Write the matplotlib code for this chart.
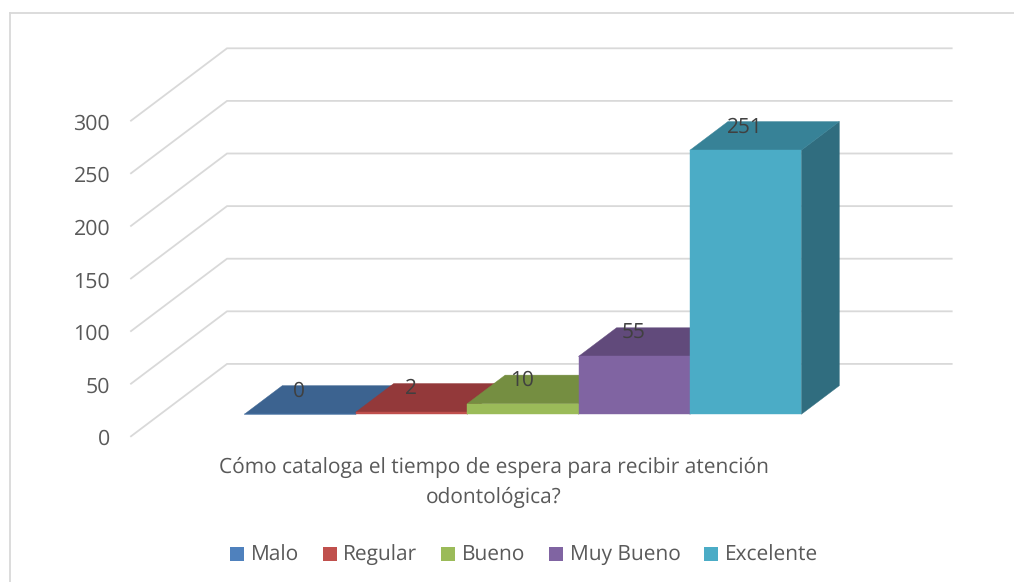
import matplotlib
matplotlib.use("Agg")
import matplotlib.pyplot as plt
from matplotlib.lines import Line2D
from matplotlib.patches import Patch
from matplotlib.transforms import ScaledTranslation

series_names = ["Malo", "Regular", "Bueno", "Muy Bueno", "Excelente"]
series_values = [0, 2, 10, 55, 251]
y_ticks = [0, 50, 100, 150, 200, 250, 300]
category_label = "Cómo cataloga el tiempo de espera para recibir atención\nodontológica?"

front_colors = ["#4f81bd", "#c0504d", "#9bbb59", "#8064a2", "#4bacc6"]
top_colors = ["#3c6390", "#93393a", "#758e41", "#614a7b", "#378297"]
side_colors = ["#335379", "#7c3030", "#637837", "#523e68", "#306d7f"]
grid_color = "#d9d9d9"
text_color = "#595959"
label_color = "#404040"

W, H = 1014, 582
plt.rcParams["font.family"] = ["Open Sans", "DejaVu Sans"]
plt.rcParams["text.hinting"] = "no_hinting"
fig = plt.figure(figsize=(W / 100, H / 100), dpi=100, facecolor="white")

# Axes span: wall-front-left corner to back-right corner
L, R, Y0, YT = 131, 951.7, 436.3, 48.3
ax = fig.add_axes([L / W, 1 - Y0 / H, (R - L) / W, (Y0 - YT) / H])
ax.patch.set_visible(False)
for s in ax.spines.values():
    s.set_visible(False)

# Oblique projection: depth d in [0, 1] shifts x and value
DX, DV = 0.862, 68.8
FLOOR_L, FLOOR_R = -0.755, 5.75
ax.set_xlim(FLOOR_L, FLOOR_R + DX)
ax.set_ylim(0, 300 + DV)
D0, D1 = 0.304, 0.70


def proj(x, v, d):
    return x + d * DX, v + d * DV


ax.set_xticks([])
ax.set_yticks(y_ticks)
ax.tick_params(axis="y", length=0, pad=15, labelsize=15.4, labelcolor=text_color)
shift = ScaledTranslation(0, -0.7 / 72, fig.dpi_scale_trans)
for lab in ax.get_yticklabels():
    lab.set_transform(lab.get_transform() + shift)

for t in y_ticks:
    pts = [proj(FLOOR_L, t, 0), proj(FLOOR_L, t, 1), proj(FLOOR_R, t, 1)]
    ax.plot([p[0] for p in pts], [p[1] for p in pts], color=grid_color, lw=1.3,
            clip_on=False, zorder=1, solid_joinstyle="miter")

for i, (v, fc, tc, sc) in enumerate(zip(series_values, front_colors, top_colors, side_colors)):
    x0, x1 = i, i + 1
    base = 0
    faces = [
        ([(x1, base, D0), (x1, base, D1), (x1, v, D1), (x1, v, D0)], sc),
        ([(x0, v, D0), (x1, v, D0), (x1, v, D1), (x0, v, D1)], tc),
        ([(x0, base, D0), (x1, base, D0), (x1, v, D0), (x0, v, D0)], fc),
    ]
    for face, col in faces:
        p = [proj(*c) for c in face]
        ax.fill([q[0] for q in p], [q[1] for q in p], color=col, lw=0.3,
                clip_on=False, zorder=2 + i)
    ax.annotate(str(v), xy=proj(i + 0.5, v, D0), xytext=(-0.5, 16.8), textcoords="offset points",
                ha="center", va="center", fontsize=15, color=label_color, zorder=10,
                annotation_clip=False)

fig.text(493.5 / W, 1 - 482.5 / H, category_label, ha="center", va="center", fontsize=15,
         color=text_color, linespacing=1.5)

handles = [Patch(facecolor=c, edgecolor="none", label=n) for c, n in zip(front_colors, series_names)]
fig.legend(handles=handles, loc="center", bbox_to_anchor=(524 / W, 1 - 555.5 / H), ncol=5,
           frameon=False, fontsize=15, labelcolor=text_color, handlelength=0.67, handleheight=0.67,
           handletextpad=0.33, columnspacing=1.13, borderpad=0, borderaxespad=0)

fig.add_artist(Line2D([9.5 / W, 9.5 / W], [0, 1 - 12.5 / H], color=grid_color, lw=1.3,
                      transform=fig.transFigure))
fig.add_artist(Line2D([9.5 / W, 1], [1 - 12.5 / H, 1 - 12.5 / H], color=grid_color, lw=1.3,
                      transform=fig.transFigure))

fig.savefig("out.png", dpi=100, facecolor="white")
